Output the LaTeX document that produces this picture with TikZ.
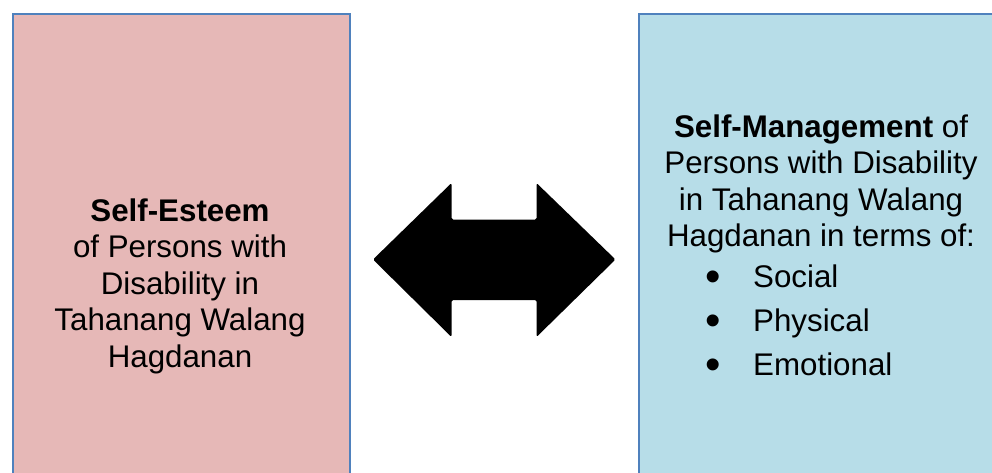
\documentclass[tikz,border=0pt]{standalone}
\usepackage{fontspec}
\setmainfont{Liberation Sans}
\usetikzlibrary{positioning}

\definecolor{esteempink}{RGB}{230,184,183}
\definecolor{managecyan}{RGB}{183,221,232}
\definecolor{frameblue}{RGB}{79,129,189}

\newcommand{\blt}{\makebox[48pt][l]{\raisebox{-4.5pt}{\fontsize{44}{44}\selectfont\textbullet}}}

\begin{document}
\begin{tikzpicture}[x=1pt,y=-1pt,
    panel/.style={draw=frameblue,line width=2pt,anchor=north west,
      minimum height=480pt},
    body/.style={inner sep=0pt,font=\fontsize{31.3}{36.5}\selectfont}]
      \useasboundingbox (0,0) rectangle (992,473);



      \node[panel,fill=esteempink,minimum width=337pt] (esteem) at (11.7,13) {};

      \node[body,align=center,anchor=north] (esteemtext) at (180,198.5)
        {\textbf{Self-Esteem}\\of Persons with\\Disability in\\Tahanang Walang\\Hagdanan};



      \coordinate (link) at (494.5,259.5);

      \fill[rounded corners=1.5pt] (link) ++(-121.5,0) -- ++(78.5,-76.5)
        -- ++(0,36.5) -- ++(85,0) -- ++(0,-36.5) -- ++(79,76.5)
        -- ++(-79,77.5) -- ++(0,-37) -- ++(-85,0) -- ++(0,37) -- cycle;



      \node[panel,fill=managecyan,minimum width=368pt] (manage) at (637.5,13) {};

      \node[body,align=center,anchor=north] (managetext) at (821,114.5)
        {\textbf{Self-Management} of\\Persons with Disability\\in Tahanang Walang\\Hagdanan in terms of:};

      \node[body,align=left,anchor=north west,font=\fontsize{31.3}{44}\selectfont]
        (aspects) at (705,264.5) {\blt Social\\\blt Physical\\\blt Emotional};
    \end{tikzpicture}
\end{document}
